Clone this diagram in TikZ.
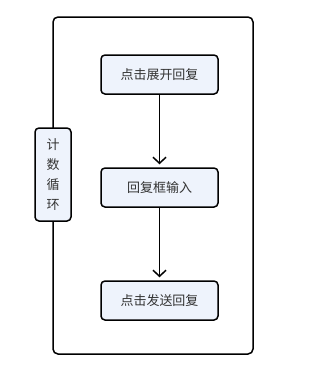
\documentclass[tikz,border=0pt]{standalone}
\usepackage{fontspec}
\setmainfont{Noto Sans CJK SC}
\usetikzlibrary{arrows.meta,positioning}
\definecolor{boxfill}{HTML}{EEF3FC}
\definecolor{textgray}{HTML}{333333}

\begin{document}
\begin{tikzpicture}[
  x=1pt, y=-1pt,
  line width=1.5pt,
  stepbox/.style={draw, rounded corners=4pt, fill=boxfill, text=textgray,
    minimum width=117pt, minimum height=39pt, font=\fontsize{13}{15}\selectfont},
  loopbox/.style={draw, rounded corners=4pt, fill=boxfill, text=textgray,
    minimum width=36pt, minimum height=93pt, align=center,
    font=\fontsize{13}{20}\selectfont},
  flow/.style={-{Straight Barb[length=6pt,width=13pt]}, shorten >=3pt}]
\useasboundingbox (0,0) rectangle (315,370);
\draw[rounded corners=5pt] (53,17) rectangle (253,354);
\node[stepbox] (expand) at (159.5,74.5) {点击展开回复};
\node[stepbox] (input) at (159.5,187.5) {回复框输入};
\node[stepbox] (send) at (159.5,300.5) {点击发送回复};
\node[loopbox] (loop) at (53,174.5) {计\\数\\循\\环};
\draw[flow] (expand) -- (input);
\draw[flow] (input) -- (send);
\end{tikzpicture}
\end{document}
